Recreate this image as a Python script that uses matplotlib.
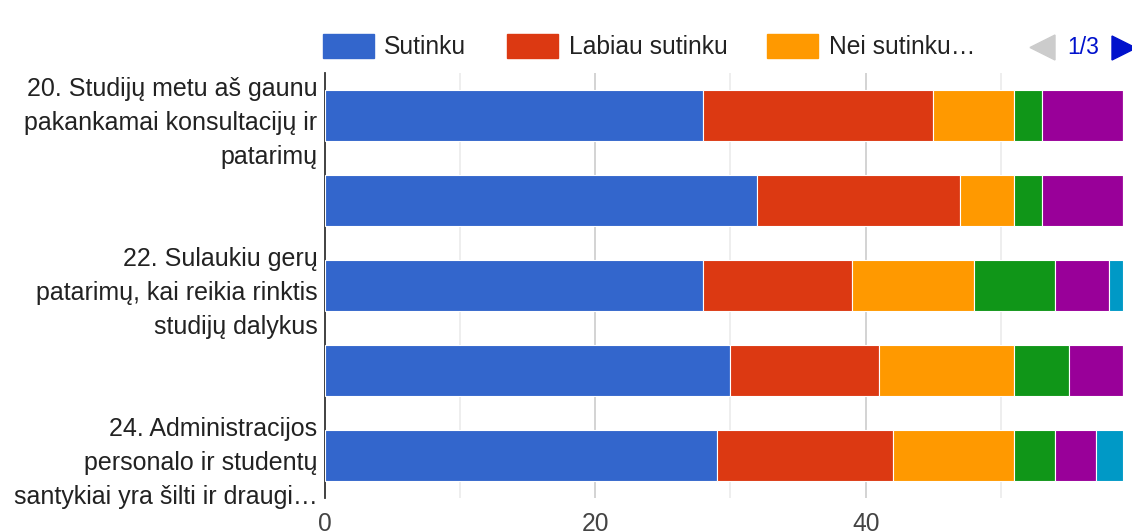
import matplotlib
matplotlib.use("Agg")
import matplotlib.pyplot as plt
from matplotlib.patches import Rectangle, Polygon
import numpy as np

plt.rcParams['font.family'] = ['Liberation Sans', 'DejaVu Sans']

questions = [
    "20. Studijų metu aš gaunu\npakankamai konsultacijų ir\npatarimų",
    "",
    "22. Sulaukiu gerų\npatarimų, kai reikia rinktis\nstudijų dalykus",
    "",
    "24. Administracijos\npersonalo ir studentų\nsantykiai yra šilti ir draugi…",
]
series_names = ["Sutinku", "Labiau sutinku", "Nei sutinku…", "Nesutinku", "Visiškai nesutinku", "Nežinau"]
sutinku = [28, 32, 28, 30, 29]
labiau_sutinku = [17, 15, 11, 11, 13]
nei_sutinku = [6, 4, 9, 10, 9]
nesutinku = [2, 2, 6, 4, 3]
visiskai_nesutinku = [6, 6, 4, 4, 3]
nezinau = [0, 0, 1, 0, 2]
colors = ["#3366cc", "#dc3912", "#ff9900", "#109618", "#990099", "#0099c6"]

W, H = 1132, 531
fig = plt.figure(figsize=(W / 100, H / 100), dpi=100)
ax = fig.add_axes([324.5 / W, 1 - 498 / H, (1122.7 - 324.5) / W, 425 / H])

y = np.arange(len(questions))
left = np.zeros(len(questions))
for vals, c in zip([sutinku, labiau_sutinku, nei_sutinku, nesutinku, visiskai_nesutinku, nezinau], colors):
    vals = np.array(vals, dtype=float)
    ax.barh(y, vals, left=left, height=0.61, color=c, edgecolor="white", linewidth=0.8, zorder=3)
    left += vals

ax.set_xlim(0, 59)
ax.set_ylim(len(questions) - 0.5, -0.5)

for x in [10, 30, 50]:
    ax.axvline(x, color="#ebebeb", lw=1.2, zorder=1)
for x in [20, 40]:
    ax.axvline(x, color="#cccccc", lw=1.2, zorder=1)

for s in ["top", "right", "bottom"]:
    ax.spines[s].set_visible(False)
ax.spines["left"].set_color("#333333")
ax.spines["left"].set_linewidth(1.3)

ax.set_xticks([0, 20, 40])
ax.set_xticklabels(["0", "20", "40"], fontsize=17.7, color="#444444")
ax.tick_params(axis="x", length=0, pad=10)
ax.set_yticks(y)
ax.set_yticklabels(questions, fontsize=18, color="#222222", linespacing=1.54)
ax.tick_params(axis="y", length=0, pad=5)

# legend (first page of three)
leg_boxes = [(322.5, 384), (507, 569), (767, 829)]
for (bx, tx), name, c in zip(leg_boxes, series_names[:3], colors):
    fig.add_artist(Rectangle((bx / W, 1 - 58.3 / H), 51 / W, 24 / H, color=c, transform=fig.transFigure))
    fig.text(tx / W, 1 - 54.5 / H, name, fontsize=17.7, color="#222222", va="baseline", ha="left")

fig.add_artist(Polygon([[1030 / W, 1 - 47.5 / H], [1055 / W, 1 - 35 / H], [1055 / W, 1 - 60 / H]],
                       closed=True, color="#cccccc", transform=fig.transFigure))
fig.text(1067.5 / W, 1 - 54.5 / H, "1/3", fontsize=16.5, color="#0011cc", va="baseline", ha="left")
fig.add_artist(Polygon([[1112 / W, 1 - 36 / H], [1136 / W, 1 - 48 / H], [1112 / W, 1 - 60 / H]],
                       closed=True, color="#0011cc", transform=fig.transFigure))

fig.savefig("out.png", dpi=100, facecolor="white")
